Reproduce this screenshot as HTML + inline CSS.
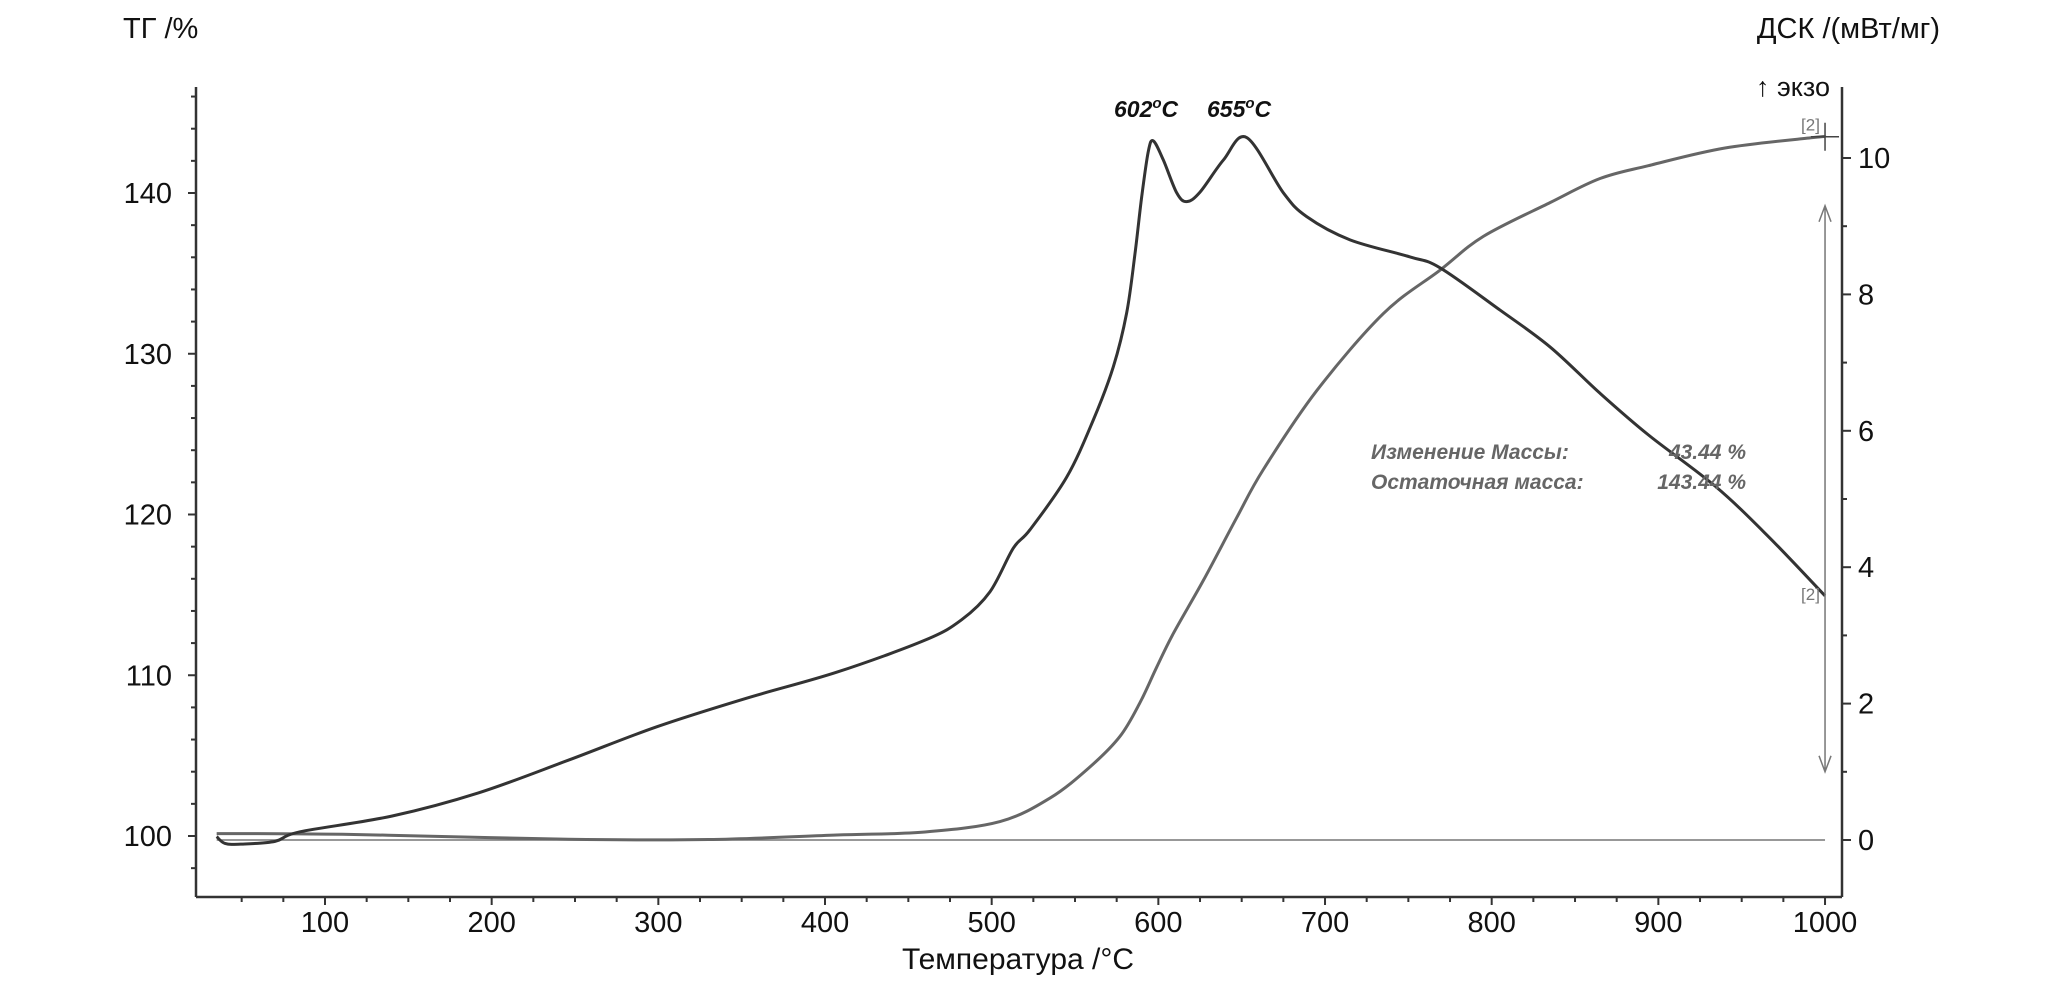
<!DOCTYPE html>
<html><head><meta charset="utf-8">
<style>
html,body{margin:0;padding:0;background:#fff;}
svg{display:block;font-family:"Liberation Sans",sans-serif;}
</style></head>
<body>
<svg id="chart" width="2067" height="989" viewBox="0 0 2067 989" xmlns="http://www.w3.org/2000/svg">
<text x="123" y="38" font-size="29" fill="#111">ТГ /%</text>
<text x="1940" y="38" font-size="29" fill="#111" text-anchor="end">ДСК /(мВт/мг)</text>
<text x="1830" y="96" font-size="27" fill="#111" text-anchor="end">↑ экзо</text>
<text x="1018" y="969" font-size="30" fill="#111" text-anchor="middle">Температура /°C</text>
<g id="axes"></g>
<g id="marks"></g>
<text x="1114" y="117" font-size="23" font-weight="bold" font-style="italic" fill="#111">602<tspan dy="-9" font-size="15">o</tspan><tspan dy="9">C</tspan></text>
<text x="1207" y="117" font-size="23" font-weight="bold" font-style="italic" fill="#111">655<tspan dy="-9" font-size="15">o</tspan><tspan dy="9">C</tspan></text>
<text x="1371" y="459" font-size="21" font-weight="bold" font-style="italic" fill="#666">Изменение Массы:</text>
<text x="1746" y="459" font-size="21" font-weight="bold" font-style="italic" fill="#666" text-anchor="end">43.44 %</text>
<text x="1371" y="489" font-size="21" font-weight="bold" font-style="italic" fill="#666">Остаточная масса:</text>
<text x="1746" y="489" font-size="21" font-weight="bold" font-style="italic" fill="#666" text-anchor="end">143.44 %</text>
</svg>
<script>
const tempTicks=[100,200,300,400,500,600,700,800,900,1000];
const tgTicks=[100,110,120,130,140];
const dscTicks=[0,2,4,6,8,10];
const tgTemps=[35,60,100,138,246,330,407,460,505,535,559,577,589,599,609,627,647,663,695,735,769,795,835,865,894,940,993,1000];
const tgValues=[100.15,100.15,100.12,100.05,99.8,99.78,100.06,100.25,100.9,102.36,104.3,106.2,108.3,110.5,112.6,115.9,119.8,122.8,127.7,132.5,135.2,137.3,139.4,140.9,141.7,142.8,143.45,143.5];
const dscTemps=[35,40,50,70,85,140,192,246,299,353,407,460,482,499,513,523,545,561,573,581,586,590,594,597,603,611,617,625,639,653,675,689,715,751,769,805,835,865,894,934,966,1000];
const dscValues=[0.05,-0.05,-0.06,-0.02,0.12,0.35,0.69,1.17,1.66,2.08,2.46,2.93,3.23,3.64,4.28,4.55,5.32,6.16,6.94,7.73,8.6,9.43,10.1,10.25,9.97,9.49,9.36,9.5,9.97,10.3,9.49,9.14,8.8,8.55,8.39,7.77,7.23,6.55,5.94,5.19,4.45,3.58];
const NS="http://www.w3.org/2000/svg";
const xs=t=>325+(t-100)*1.6667;
const yl=v=>836-(v-100)*16.075;
const yr=v=>840-v*68.2;
const axes=document.getElementById('axes'), marks=document.getElementById('marks');
function mk(tag,attrs,parent){const e=document.createElementNS(NS,tag);for(const k in attrs)e.setAttribute(k,attrs[k]);parent.appendChild(e);return e;}
let e;
e=mk('line',{x1:196,y1:87,x2:196,y2:897,stroke:'#333','stroke-width':2.5},axes);


e=mk('line',{x1:1842,y1:87,x2:1842,y2:897,stroke:'#333','stroke-width':2.5},axes);


e=mk('line',{x1:196,y1:897,x2:1842,y2:897,stroke:'#333','stroke-width':2.5},axes);


for(let v=98;v<=146;v+=2){const y=yl(v);if(y<90)continue;const maj=v%10===0;
e=mk('line',{x1:maj?188:191,y1:y,x2:196,y2:y,stroke:'#333','stroke-width':2},axes);

}
tgTicks.forEach(v=>{e=mk('text',{x:172,y:yl(v)+10,'font-size':29,'text-anchor':'end',fill:'#111'},axes);e.textContent=v;

});
for(let v=0;v<=10;v+=1){const y=yr(v);const maj=v%2===0;
e=mk('line',{x1:1842,y1:y,x2:maj?1851:1847,y2:y,stroke:'#333','stroke-width':2},axes);

}
dscTicks.forEach(v=>{e=mk('text',{x:1858,y:yr(v)+10,'font-size':29,fill:'#111'},axes);e.textContent=v;

});
for(let t=50;t<=1000;t+=25){const x=xs(t);const maj=t%100===0;
e=mk('line',{x1:x,y1:897,x2:x,y2:maj?905:902,stroke:'#333','stroke-width':2},axes);

}
tempTicks.forEach(t=>{e=mk('text',{x:xs(t),y:932,'font-size':29,'text-anchor':'middle',fill:'#111'},axes);e.textContent=t;

});
e=mk('line',{x1:xs(35),y1:yr(0),x2:xs(1000),y2:yr(0),stroke:'#777','stroke-width':1.5},marks);


function path(ts,vs,f){let p=[];ts.forEach((t,i)=>p.push([xs(t),f(vs[i])]));
let d='M'+p[0][0]+','+p[0][1];
for(let i=0;i<p.length-1;i++){const p0=p[i-1]||p[i],p1=p[i],p2=p[i+1],p3=p[i+2]||p2;
d+=` C${p1[0]+(p2[0]-p0[0])/6},${p1[1]+(p2[1]-p0[1])/6} ${p2[0]-(p3[0]-p1[0])/6},${p2[1]-(p3[1]-p1[1])/6} ${p2[0]},${p2[1]}`;}
return d;}
e=mk('path',{d:path(tgTemps,tgValues,yl),fill:'none',stroke:'#666','stroke-width':3,'stroke-linejoin':'round'},marks);


e=mk('path',{d:path(dscTemps,dscValues,yr),fill:'none',stroke:'#333','stroke-width':3,'stroke-linejoin':'round'},marks);


const ax=xs(1000);
e=mk('path',{d:`M${ax},${yr(9.3)} L${ax},${yr(1)} M${ax-6},${yr(9.3)+16} L${ax},${yr(9.3)} L${ax+6},${yr(9.3)+16} M${ax-6},${yr(1)-16} L${ax},${yr(1)} L${ax+6},${yr(1)-16}`,fill:'none',stroke:'#777','stroke-width':1.5},marks);


e=mk('path',{d:`M${ax-14},${yl(143.5)} L${ax+14},${yl(143.5)} M${ax},${yl(143.5)-14} L${ax},${yl(143.5)+14}`,stroke:'#444','stroke-width':1.5},marks);


e=mk('text',{x:ax-24,y:yl(143.5)-6,'font-size':17,fill:'#777'},marks);e.textContent='[2]';


e=mk('text',{x:ax-24,y:yr(3.58)+4,'font-size':17,fill:'#777'},marks);e.textContent='[2]';


</script>
</body></html>
